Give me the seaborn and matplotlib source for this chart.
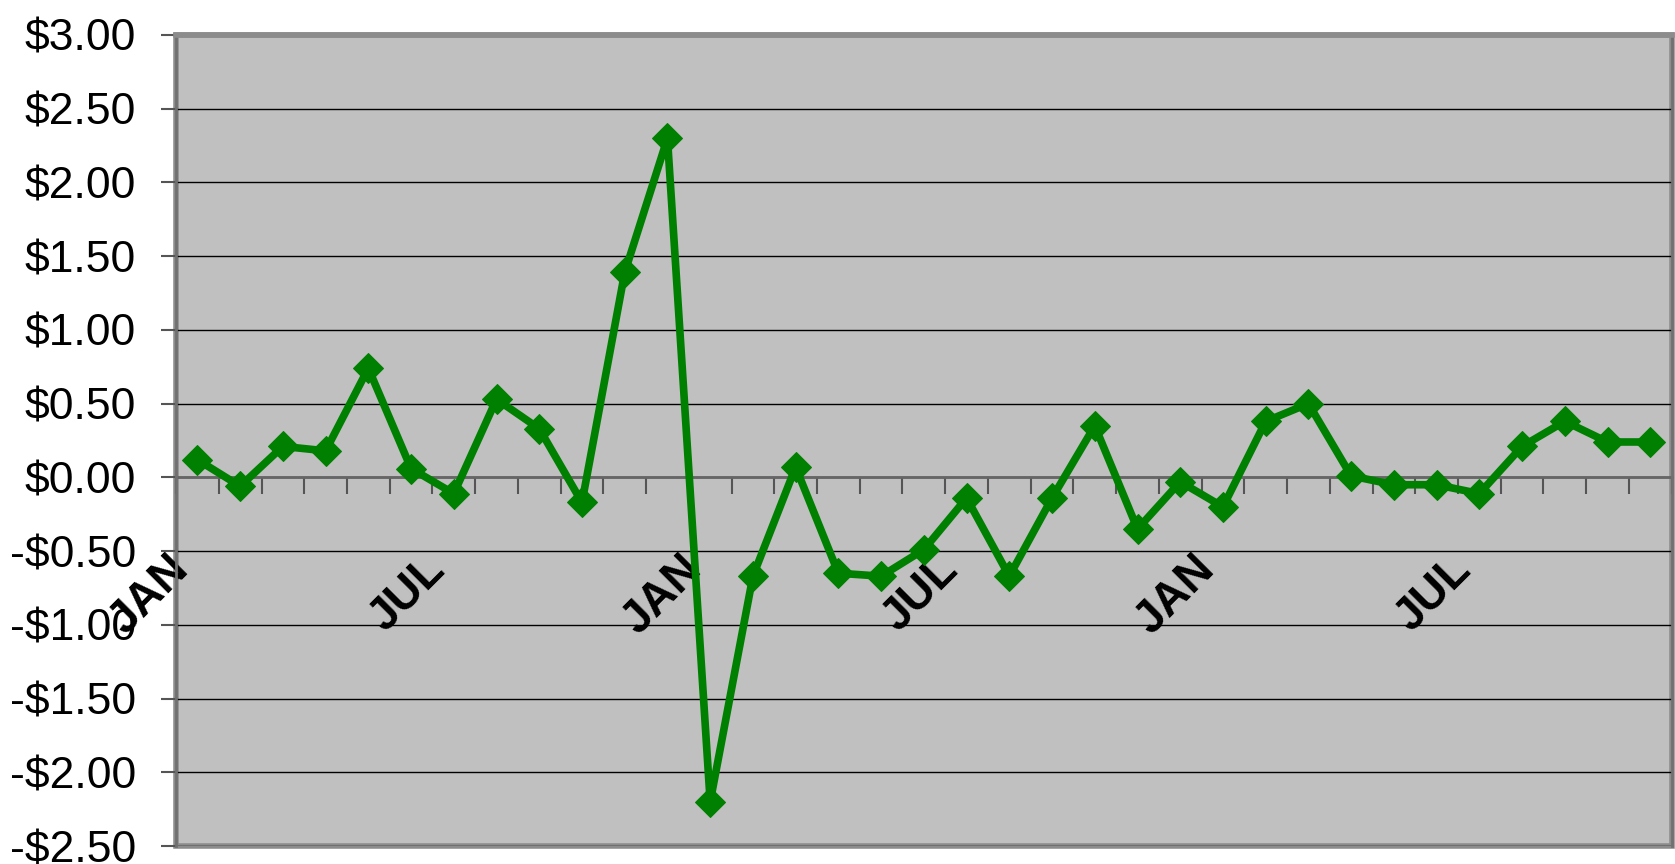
import matplotlib as mpl
import matplotlib.pyplot as plt
import matplotlib.transforms as mtransforms
import pandas as pd
import seaborn as sns
from matplotlib.ticker import FixedLocator, FuncFormatter

mpl.use("agg")
sns.set_theme()
sns.set_style("white")
plt.rcParams["font.family"] = ["Liberation Sans", "DejaVu Sans"]
plt.rcParams["text.color"] = "black"
plt.rcParams["xtick.color"] = "black"
plt.rcParams["ytick.color"] = "black"

# three years of monthly changes, starting in January
months = ["JAN", "FEB", "MAR", "APR", "MAY", "JUN",
          "JUL", "AUG", "SEP", "OCT", "NOV", "DEC"] * 3
months = months[:35]
change = [0.12, -0.06, 0.21, 0.18, 0.74, 0.06, -0.11, 0.53, 0.33, -0.17,
          1.39, 2.30, -2.20, -0.67, 0.07, -0.65, -0.67, -0.49, -0.14, -0.67,
          -0.14, 0.35, -0.35, -0.03, -0.20, 0.38, 0.50, 0.01, -0.05, -0.05,
          -0.11, 0.21, 0.38, 0.24, 0.24]
shown_labels = ["JAN", "JUL"]
y_ticks = [-2.5, -2.0, -1.5, -1.0, -0.5, 0.0, 0.5, 1.0, 1.5, 2.0, 2.5, 3.0]


def money(v, pos):
    if v < 0:
        return "-${:.2f}".format(-v)
    return "${:.2f}".format(v)


def plot_change(file_name):
    data = pd.DataFrame({"pos": range(len(change)), "month": months, "change": change})

    fig = plt.figure(figsize=(16.75, 8.64), dpi=100)
    ax = fig.add_axes([0.1051, 0.0208, 0.8929, 0.9387])
    ax.set_facecolor("#c0c0c0")

    sns.lineplot(
        data=data,
        x="pos",
        y="change",
        color="#008000",
        linewidth=5.5,
        marker="D",
        markersize=15,
        markeredgecolor="#008000",
        ax=ax,
        zorder=3,
    )

    ax.set_xlim(-0.5, len(change) - 0.5)
    ax.set_ylim(y_ticks[0], y_ticks[-1])
    ax.set_xlabel("")
    ax.set_ylabel("")

    # grid + y axis
    ax.yaxis.set_major_locator(FixedLocator(y_ticks))
    ax.yaxis.set_major_formatter(FuncFormatter(money))
    ax.yaxis.grid(True, color="black", linewidth=1.0)
    ax.tick_params(axis="y", direction="out", length=11, width=1.5, color="#555555",
                   pad=18, labelsize=32, labelcolor="black", left=True)

    # category axis crosses at zero, ticks between months
    ax.spines["bottom"].set_position(("data", 0))
    ax.spines["bottom"].set_color("#666666")
    ax.spines["bottom"].set_linewidth(2)
    ax.spines["bottom"].set_zorder(2)
    bounds = [i - 0.5 for i in range(len(change) + 1)]
    ax.xaxis.set_major_locator(FixedLocator(bounds))
    ax.xaxis.set_major_formatter(FuncFormatter(lambda v, p: ""))
    label_pos = [i for i, m in enumerate(months) if m in shown_labels]
    ax.xaxis.set_minor_locator(FixedLocator(label_pos))
    ax.xaxis.set_minor_formatter(FuncFormatter(lambda v, p: months[int(round(v))]))
    ax.tick_params(axis="x", which="major", direction="out", length=12, width=1.5,
                   color="#555555", bottom=True)
    ax.tick_params(axis="x", which="minor", length=0, labelsize=33, pad=0,
                   labelcolor="black", bottom=True)

    shift = mtransforms.ScaledTranslation(-31 / 100, -70 / 100, fig.dpi_scale_trans)
    for lab in ax.xaxis.get_minorticklabels():
        lab.set_rotation(45)
        lab.set_rotation_mode("anchor")
        lab.set_ha("right")
        lab.set_va("top")
        lab.set_fontweight("bold")
        lab.set_transform(lab.get_transform() + shift)

    # plot area border
    for side in ["left", "right"]:
        ax.spines[side].set_color("#707070")
        ax.spines[side].set_linewidth(2)
    ax.spines["top"].set_color("#8c8c8c")
    ax.spines["top"].set_linewidth(4)
    ax.patch.set_edgecolor("#8c8c8c")
    ax.patch.set_linewidth(4)

    plt.savefig(file_name, dpi=100)
    plt.clf()


plot_change("out.png")
